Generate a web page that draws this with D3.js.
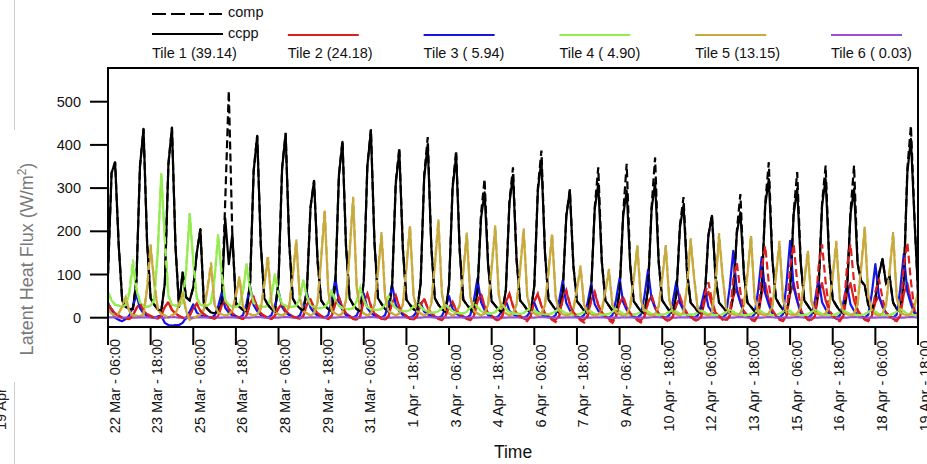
<!DOCTYPE html>
<html><head><meta charset="utf-8">
<script src="https://cdn.jsdelivr.net/npm/d3@7"></script>
<style>html,body{margin:0;padding:0;background:#fff;} svg{display:block;font-family:"Liberation Sans", Arial, sans-serif;}</style>
</head><body><svg id="c" width="927" height="464"></svg>
<script>
// ---------- data ----------
const startTime = "2013-03-22T06:00:00Z";   // first sample
const stepHours = 3;                         // sampling step
const xTickHours = [0,36,72,108,144,180,216,252,288,324,360,396,432,468,504,540,576,612,648,684];
const xTickLabels = ["22 Mar - 06:00","23 Mar - 18:00","25 Mar - 06:00","26 Mar - 18:00","28 Mar - 06:00",
  "29 Mar - 18:00","31 Mar - 06:00","1 Apr - 18:00","3 Apr - 06:00","4 Apr - 18:00","6 Apr - 06:00",
  "7 Apr - 18:00","9 Apr - 06:00","10 Apr - 18:00","12 Apr - 06:00","13 Apr - 18:00","15 Apr - 06:00",
  "16 Apr - 18:00","18 Apr - 06:00","19 Apr - 18:00"];
const yTicks = [0,100,200,300,400,500];
const tileNames = ["Tile 1 (39.14)","Tile 2 (24.18)","Tile 3 ( 5.94)","Tile 4 ( 4.90)","Tile 5 (13.15)","Tile 6 ( 0.03)"];
const tileColors = ["#000000","#dd1f1f","#1515e8","#95ec50","#c9aa3e","#9a50cf"];

// tile 1 (ccpp, solid) – one row per day: 06,09,12,15,18,21,00,03 h
const ccpp1 = [
 100,335,360,170,40,25,20,20,   85,350,437,175,45,30,20,15,   80,355,440,165,25,105,47,40,
 70,150,205,30,20,12,10,15,     35,230,124,194,30,25,18,15,   80,340,421,170,45,30,20,15,
 85,345,425,175,45,30,22,15,    65,255,317,130,40,28,20,15,   80,330,407,165,45,30,20,15,
 85,350,433,175,45,32,20,14,    80,310,385,160,42,30,20,14,   80,325,400,165,45,30,20,14,
 75,300,375,155,42,30,20,13,    60,230,290,120,38,28,18,12,   65,265,330,135,40,30,18,12,
 75,295,365,150,42,30,18,12,    60,235,294,120,38,28,16,10,   65,250,310,130,40,28,16,10,
 60,235,294,120,38,26,15,10,    65,250,313,130,40,28,16,10,   55,210,260,105,35,25,15,10,
 50,190,236,95,35,25,15,10,     50,195,244,100,35,25,15,10,   65,260,321,135,45,30,18,10,
 60,240,298,125,40,28,16,10,    65,260,321,135,42,28,16,10,   60,240,298,125,85,75,30,15,
 45,100,136,80,95,35,20,15,     85,335,414,230,60];
// tile 1 (comp, dashed)
const comp1 = [
 100,335,360,170,40,25,20,20,   85,350,437,175,45,30,20,15,   80,355,440,165,25,105,47,40,
 70,150,205,30,20,12,10,15,     35,270,525,190,35,25,18,15,   80,340,421,170,45,30,20,15,
 85,345,428,175,45,30,22,15,    65,255,317,130,40,28,20,15,   80,330,410,165,45,30,20,15,
 85,350,436,175,45,32,20,14,    80,315,394,160,42,30,20,14,   80,330,418,165,45,30,20,14,
 75,305,387,155,42,30,20,13,    60,240,321,125,38,28,18,12,   65,270,348,135,40,30,18,12,
 75,300,387,150,42,30,18,12,    60,235,297,120,38,28,16,10,   65,255,348,130,40,28,16,10,
 60,240,356,120,38,26,15,10,    65,255,371,130,40,28,16,10,   55,215,279,105,35,25,15,10,
 50,190,238,95,35,25,15,10,     50,200,286,100,35,25,15,10,   65,265,360,135,45,30,18,10,
 60,245,337,125,40,28,16,10,    65,265,352,135,42,28,16,10,   60,245,352,125,85,75,30,15,
 45,100,136,80,95,35,20,15,     85,345,444,235,60];
// tile 2
const ccpp2 = [
 32,20,10,5,0,-2,-3,5,    22,32,16,8,4,0,-2,5,    25,35,18,10,4,0,-2,5,    22,32,16,8,3,0,-2,4,
 28,39,20,10,4,0,-3,5,    33,47,24,10,4,0,-3,5,   22,32,16,8,3,0,-2,5,     30,43,22,10,4,0,-3,5,
 33,47,24,10,4,-2,-4,4,   38,54,27,10,4,-2,-4,4,  35,50,25,10,4,-2,-4,4,   30,43,22,10,3,-2,-4,4,
 25,35,18,8,3,-2,-4,4,    38,54,27,10,4,-2,-5,4,  38,54,27,10,4,-2,-5,4,   38,54,27,10,4,-3,-5,4,
 43,62,31,12,4,-3,-5,4,   40,58,29,12,4,-3,-6,3,  33,47,24,10,3,-3,-6,3,   35,50,25,10,3,-3,-6,3,
 30,43,22,10,3,-3,-5,3,   40,60,30,12,4,-3,-5,4,  48,70,35,14,5,-3,-5,4,   55,80,40,15,5,-3,-5,4,
 55,80,40,15,5,-3,-5,4,   55,80,40,15,5,-3,-5,4,  55,80,40,15,5,-3,-5,4,   35,50,25,12,4,-3,-5,4,
 55,80,40,15,5];
const comp2 = [
 32,20,10,5,0,-2,-3,5,    22,34,16,8,4,0,-2,5,    25,37,18,10,4,0,-2,5,    22,33,16,8,3,0,-2,4,
 28,40,20,10,4,0,-3,5,    33,48,24,10,4,0,-3,5,   22,33,16,8,3,0,-2,5,     30,44,22,10,4,0,-3,5,
 33,48,24,10,4,-3,-5,4,   38,56,27,10,4,-3,-5,4,  35,52,25,10,4,-3,-5,4,   30,45,22,10,3,-3,-6,4,
 25,37,18,8,3,-3,-6,4,    38,56,27,10,4,-4,-8,4,  38,56,27,10,4,-4,-8,4,   38,56,27,10,4,-5,-10,4,
 43,64,31,12,4,-6,-11,4,  40,60,29,12,4,-6,-12,3, 33,50,24,10,3,-6,-11,3,  35,52,25,10,3,-5,-9,3,
 30,50,25,10,3,-5,-8,3,   55,82,40,12,4,-5,-8,4,  90,128,60,15,5,-5,-8,4,  115,166,80,18,5,-5,-8,4,
 118,170,82,18,5,-5,-8,4, 118,170,82,18,5,-5,-8,4, 118,170,82,18,5,-5,-8,4, 60,90,45,12,4,-5,-8,4,
 120,174,85,18,5];
// tile 3
const ccpp3 = [
 35,15,0,-5,-8,-3,5,25,       54,22,10,4,2,0,3,5,          -12,-17,-18,-17,-17,-12,0,14,
 31,12,6,3,2,0,5,26,          58,23,12,5,3,0,6,33,         73,29,15,6,3,0,6,28,
 62,25,12,6,3,0,5,26,         58,23,12,5,3,0,6,41,         91,36,18,6,3,0,5,25,
 56,22,11,5,3,0,6,34,         75,30,15,6,3,0,4,15,         34,14,8,4,2,0,4,22,
 50,20,10,4,2,0,6,41,         91,36,18,6,3,0,4,18,         39,16,8,4,2,0,4,16,
 35,14,8,4,2,0,6,39,          86,34,17,6,3,0,6,35,         78,31,16,6,3,0,6,41,
 91,36,18,6,3,0,7,50,         110,44,22,8,3,0,6,38,        85,34,17,6,3,0,5,30,
 66,26,13,5,3,0,8,70,         155,62,35,10,4,0,8,63,       140,56,30,10,4,0,8,80,
 178,70,38,10,4,0,6,40,       90,36,20,8,3,0,5,35,         78,31,16,6,3,0,7,56,
 124,50,28,10,4,0,7,66,       147,60,32,10,4];
// tile 4
const ccpp4 = [
 55,40,30,28,25,28,55,120,    65,35,28,25,28,40,150,333,   180,50,30,28,28,35,110,240,
 130,45,30,28,28,35,90,190,   100,40,30,25,25,30,60,122,   65,35,28,25,25,28,50,99,
 55,32,28,25,25,28,45,86,     48,30,25,22,22,25,35,63,     38,28,22,20,20,22,38,68,
 40,25,20,18,18,20,30,48,     32,22,18,15,15,18,25,35,     25,18,15,12,12,15,22,31,
 22,15,12,10,10,14,24,35,     24,15,12,10,10,13,22,31,     20,13,10,9,9,11,17,23,
 17,11,9,8,8,10,15,20,        15,10,8,7,7,9,13,18,         14,9,8,7,7,9,14,20,
 15,9,8,7,7,9,13,18,          14,9,8,7,7,9,13,18,          14,9,8,7,7,8,12,16,
 12,8,7,6,6,8,13,18,          14,9,7,6,6,8,13,18,          14,9,7,6,6,9,14,20,
 15,9,7,6,6,8,13,18,          14,8,7,6,6,8,12,16,          12,8,7,6,6,8,13,18,
 14,8,7,6,6,9,14,20,          15,9,7,6,6];
const comp4 = [
 60,42,30,28,25,30,62,135,    70,36,28,25,28,42,155,333,   182,52,30,28,28,36,112,242,
 132,46,30,28,28,36,92,193,   102,40,30,25,25,30,62,126,   66,35,28,25,25,28,52,102,
 56,32,28,25,25,28,46,88,     48,30,25,22,22,25,36,65,     38,28,22,20,20,22,39,70,
 40,25,20,18,18,20,31,50,     32,22,18,15,15,18,26,36,     25,18,15,12,12,15,22,32,
 22,15,12,10,10,14,24,35,     24,15,12,10,10,13,22,31,     20,13,10,9,9,11,17,23,
 17,11,9,8,8,10,15,20,        15,10,8,7,7,9,13,18,         14,9,8,7,7,9,14,20,
 15,9,8,7,7,9,13,18,          14,9,8,7,7,9,13,18,          14,9,8,7,7,8,12,16,
 12,8,7,6,6,8,13,18,          14,9,7,6,6,8,13,18,          14,9,7,6,6,9,14,20,
 15,9,7,6,6,8,13,18,          14,8,7,6,6,8,12,16,          12,8,7,6,6,8,13,18,
 14,8,7,6,6,9,14,20,          15,9,7,6,6];
// tile 5
const ccpp5 = [
 20,10,5,10,25,45,15,5,       5,3,8,65,163,80,20,8,        5,0,5,10,30,55,15,-5,
 0,3,8,18,65,120,30,12,       8,5,8,15,50,90,25,10,        8,5,8,20,75,136,35,12,
 8,5,10,25,95,174,45,15,      10,5,10,35,135,244,60,15,    10,5,10,40,150,275,70,18,
 10,5,10,28,105,190,48,15,    10,5,10,30,115,209,52,15,    10,5,10,32,120,221,55,15,
 10,5,10,28,105,190,48,15,    10,5,10,30,115,209,52,15,    10,5,10,30,110,201,50,15,
 10,5,10,28,105,190,48,15,    8,5,8,18,65,116,30,12,       8,5,8,16,60,108,28,12,
 8,5,8,25,90,163,40,12,       8,5,8,25,90,163,40,12,       8,5,12,70,178,90,20,10,
 8,5,12,75,190,95,22,10,      8,5,10,28,100,186,45,12,     8,5,10,25,95,172,42,12,
 8,5,10,22,85,150,38,12,      8,5,10,25,95,172,42,12,      8,5,10,30,115,205,50,15,
 8,5,10,28,105,192,48,12,     8,5,10,25,60];
const comp5 = [
 20,10,5,10,28,48,15,5,       5,3,8,70,170,85,20,8,        5,0,5,10,32,58,15,-5,
 0,3,8,20,70,128,32,12,       8,5,8,16,55,96,26,10,        8,5,8,22,80,145,36,12,
 8,5,10,27,100,182,46,15,     10,5,10,37,140,252,62,15,    10,5,10,42,155,280,72,18,
 10,5,10,30,110,198,50,15,    10,5,10,32,120,215,54,15,    10,5,10,34,125,228,56,15,
 10,5,10,30,110,197,50,15,    10,5,10,32,120,214,54,15,    10,5,10,32,115,207,52,15,
 10,5,10,30,110,196,50,15,    8,5,8,20,68,121,31,12,       8,5,8,18,63,113,29,12,
 8,5,8,27,95,168,42,12,       8,5,8,27,95,168,42,12,       8,5,12,74,184,94,21,10,
 8,5,12,78,196,98,23,10,      8,5,10,30,104,192,46,12,     8,5,10,27,99,178,43,12,
 8,5,10,24,89,156,39,12,      8,5,10,27,99,178,43,12,      8,5,10,32,120,211,52,15,
 8,5,10,30,110,198,49,12,     8,5,10,26,62];
// tile 6
const ccpp6 = [
 1,1,1,1,0,0,0,0, 0,1,1,1,0,0,0,0, 0,1,2,1,0,0,0,0, 0,1,1,1,0,0,0,0, 0,1,1,1,0,0,0,0,
 0,1,2,1,0,0,0,0, 0,1,2,1,0,0,0,0, 0,1,1,1,0,0,0,0, 0,1,2,1,0,0,0,0, 0,1,2,1,0,0,0,0,
 0,1,1,1,0,0,0,0, 0,1,2,1,0,0,0,0, 0,1,1,1,0,0,0,0, 0,1,1,1,0,0,0,0, 0,1,1,1,0,0,0,0,
 0,1,2,1,0,0,0,0, 0,1,1,1,0,0,0,0, 0,1,1,1,0,0,0,0, 0,1,1,1,0,0,0,0, 0,1,2,1,0,0,0,0,
 0,1,1,1,0,0,0,0, 0,1,1,1,0,0,0,0, 0,1,2,1,0,0,0,0, 0,1,2,1,0,0,0,0, 0,1,2,1,0,0,0,0,
 0,1,1,1,0,0,0,0, 0,1,2,1,0,0,0,0, 0,1,1,1,0,0,0,0, 0,1,2,1,0];

// ---------- chart ----------
const svg = d3.select("#c");
const L = 108, R = 918, T = 68, B = 327;
const t0 = new Date(startTime);
const hr = 3600e3;
const times = ccpp1.map((_, i) => new Date(t0.getTime() + i * stepHours * hr));
const x = d3.scaleUtc().domain([t0, new Date(t0.getTime() + 684 * hr)]).range([L, R]);
const y = d3.scaleLinear().domain([-21.5, 578]).range([B, T]);

svg.append("defs").append("clipPath").attr("id", "clip")
  .append("rect").attr("x", L).attr("y", T).attr("width", R - L).attr("height", B - T);

const line = d3.line().x((d, i) => x(times[i])).y(d => y(d));
const g = svg.append("g").attr("clip-path", "url(#clip)");
const solidSeries = [ccpp1, ccpp2, ccpp3, ccpp4, ccpp5, ccpp6];
const dashedSeries = [[comp1, 0], [comp2, 1], [comp4, 3], [comp5, 4]];
solidSeries.forEach((s, k) => {
  g.append("path").attr("d", line(s)).attr("fill", "none")
    .attr("stroke", tileColors[k]).attr("stroke-width", 2.2).attr("stroke-linejoin", "round");
});
dashedSeries.forEach(([s, k]) => {
  g.append("path").attr("d", line(s)).attr("fill", "none")
    .attr("stroke", tileColors[k]).attr("stroke-width", 2.2).attr("stroke-dasharray", "8,4");
});

// frame
svg.append("rect").attr("x", L).attr("y", T).attr("width", R - L).attr("height", B - T)
  .attr("fill", "none").attr("stroke", "#000").attr("stroke-width", 2);

// y axis
const ya = svg.append("g");
yTicks.forEach(v => {
  ya.append("line").attr("x1", 90).attr("x2", L).attr("y1", y(v)).attr("y2", y(v))
    .attr("stroke", "#000").attr("stroke-width", 2);
  ya.append("text").attr("x", 81).attr("y", y(v)).attr("dy", "0.35em").attr("text-anchor", "end")
    .attr("font-size", 14.5).attr("fill", "#111").text(v);
});
// x axis
const xa = svg.append("g");
xTickHours.forEach((h, i) => {
  const xp = x(new Date(t0.getTime() + h * hr));
  xa.append("line").attr("x1", xp).attr("x2", xp).attr("y1", B).attr("y2", 345)
    .attr("stroke", "#000").attr("stroke-width", 2);
  xa.append("text").attr("transform", `translate(${xp + 11.5},386) rotate(-90)`)
    .attr("text-anchor", "middle").attr("font-size", 14.5).attr("fill", "#111").text(xTickLabels[i]);
});

// axis titles
svg.append("text").attr("x", 513).attr("y", 458).attr("text-anchor", "middle")
  .attr("font-size", 17.5).attr("fill", "#111").text("Time");
const yl = svg.append("text").attr("transform", "translate(33,259) rotate(-90)")
  .attr("text-anchor", "middle").attr("font-size", 18).attr("fill", "#7a7a7a");
yl.append("tspan").text("Latent Heat Flux (W/m");
yl.append("tspan").attr("font-size", 12).attr("dy", -7).text("2");
yl.append("tspan").attr("dy", 7).text(")");

// legend
const lg = svg.append("g");
lg.append("line").attr("x1", 152).attr("x2", 222).attr("y1", 14).attr("y2", 14)
  .attr("stroke", "#000").attr("stroke-width", 2).attr("stroke-dasharray", "14,5");
lg.append("text").attr("x", 228).attr("y", 17).attr("font-size", 14.5).attr("fill", "#111").text("comp");
lg.append("text").attr("x", 228).attr("y", 38).attr("font-size", 14.5).attr("fill", "#111").text("ccpp");
tileNames.forEach((n, k) => {
  const lx = 152 + 135.8 * k;
  lg.append("line").attr("x1", lx).attr("x2", lx + 71).attr("y1", k === 0 ? 34 : 35).attr("y2", k === 0 ? 34 : 35)
    .attr("stroke", tileColors[k]).attr("stroke-width", 2);
  lg.append("text").attr("x", lx).attr("y", 58).attr("font-size", 14.5).attr("fill", "#111").text(n);
});

// crop artefacts on the left edge
svg.append("line").attr("x1", 14.5).attr("x2", 14.5).attr("y1", 0).attr("y2", 130).attr("stroke", "#cfcfcf");
svg.append("line").attr("x1", 14.5).attr("x2", 14.5).attr("y1", 382).attr("y2", 464).attr("stroke", "#cfcfcf");
svg.append("text").attr("transform", "translate(6,430) rotate(-90)").attr("font-size", 14.5)
  .attr("fill", "#222").text("19 Apr");
</script></body></html>
